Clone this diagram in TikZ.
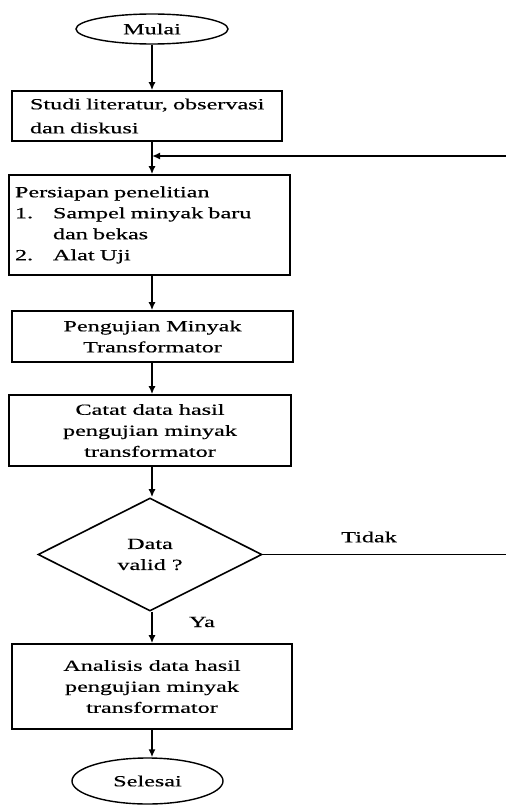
\documentclass[tikz,border=0pt]{standalone}
\usepackage{fontspec}
\setmainfont{Liberation Serif}[FakeStretch=1.56,FakeBold=0.45]
\usetikzlibrary{shapes.geometric,arrows.meta}

\tikzset{
  kotak/.style={draw, line width=1.6bp, inner sep=0pt, font=\fontsize{15.5bp}{21bp}\selectfont},
  ujung/.style={draw, ellipse, line width=1.4bp, inner sep=0pt, font=\fontsize{15.5bp}{18bp}\selectfont},
  panah/.style={line width=1.6bp, -{Latex[length=8bp,width=7bp]}},
  garis/.style={line width=1.6bp},
  label/.style={font=\fontsize{15.5bp}{18bp}\selectfont}
}

\begin{document}
\begin{tikzpicture}[x=1bp, y=-1bp]
      \useasboundingbox (0,0) rectangle (506,805);
      \coordinate (poros) at (152,0);
      \node[ujung, minimum width=152bp, minimum height=30bp] (mulai) at (152,29) {Mulai};
      \node[kotak, minimum width=270bp, minimum height=50bp, text width=234bp, align=left,
        font=\fontsize{15.5bp}{24bp}\selectfont] (studi) at (147,116)
        {\mbox{Studi literatur, observasi}\\dan diskusi};
      \node[kotak, minimum width=281bp, minimum height=100bp, text width=269bp, align=left] (siap) at (149.5,225)
        {Persiapan penelitian\\\makebox[38bp][l]{1.}Sampel minyak baru\\\hspace*{38bp}dan bekas\\\makebox[38bp][l]{2.}Alat Uji};
      \node[kotak, minimum width=281bp, minimum height=51bp, align=center] (uji) at (152.5,336.5)
        {Pengujian Minyak\\Transformator};
      \node[kotak, minimum width=282bp, minimum height=71bp, align=center] (catat) at (150,430.5)
        {Catat data hasil\\pengujian minyak\\transformator};
      \node[kotak, diamond, minimum width=224bp, minimum height=113bp, align=center] (valid) at (150,554.5)
        {Data\\valid ?};
      \node[kotak, minimum width=280bp, minimum height=85bp, align=center] (analisis) at (152,686.5)
        {Analisis data hasil\\pengujian minyak\\transformator};
      \node[ujung, minimum width=151bp, minimum height=46bp] (selesai) at (147.5,781) {Selesai};
      \coordinate (balik) at (506,156);
      \coordinate (tepi) at (506,554.5);
      \draw[panah] (mulai.south -| poros) -- (studi.north -| poros);
      \draw[panah] (studi.south -| poros) -- (siap.north -| poros);
      \draw[panah] (balik) -- (balik -| poros);
      \draw[panah] (siap.south -| poros) -- (uji.north -| poros);
      \draw[panah] (uji.south -| poros) -- (catat.north -| poros);
      \draw[panah] (catat.south -| poros) -- (valid.north -| poros);
      \draw[panah] (valid.south -| poros) -- (analisis.north -| poros);
      \draw[panah] (analisis.south -| poros) -- (selesai.north -| poros);
      \draw[garis] (valid.east) -- (tepi);
      \node[label] (tidak) at (369,537) {Tidak};
      \node[label] (ya) at (202,622) {Ya};
\end{tikzpicture}
\end{document}
